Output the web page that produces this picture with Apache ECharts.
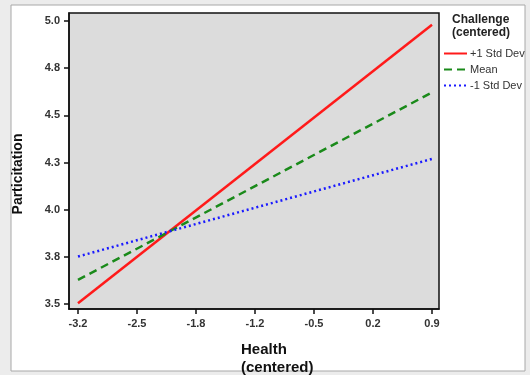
<!DOCTYPE html>
<html>
<head>
    <meta charset="UTF-8">
    <title>Participation by Health and Challenge</title>
    <script src="https://cdn.jsdelivr.net/npm/echarts/dist/echarts.min.js"></script>
    <style>
        html, body { margin: 0; padding: 0; background: #ececec; }
        #main { width: 530px; height: 375px; }
    </style>
</head>
<body>
    <div id="main"></div>
    <script type="text/javascript">
        // x endpoints of the simple slopes (Health, centered)
        var healthX = [-3.2, 0.9];
        var plusSD = [3.505, 4.98];
        var meanVals = [3.628, 4.621];
        var minusSD = [3.752, 4.269];

        var xTicks = [-3.2, -2.5167, -1.8333, -1.15, -0.4667, 0.2167, 0.9];
        var xTickLabels = ['-3.2', '-2.5', '-1.8', '-1.2', '-0.5', '0.2', '0.9'];
        var yTicks = [3.5, 3.75, 4.0, 4.25, 4.5, 4.75, 5.0];
        var yTickLabels = ['3.5', '3.8', '4.0', '4.3', '4.5', '4.8', '5.0'];

        function pairs(ys) {
            return healthX.map(function (x, i) { return [x, ys[i]]; });
        }
        function lookup(ticks, labels) {
            return function (v) {
                for (var i = 0; i < ticks.length; i++) {
                    if (Math.abs(ticks[i] - v) < 1e-3) return labels[i];
                }
                return '';
            };
        }

        var myChart = echarts.init(document.getElementById('main'));
        var font = 'Liberation Sans, Arial, sans-serif';

        var option = {
            animation: false,
            backgroundColor: 'transparent',
            textStyle: { fontFamily: font },
            graphic: [
                {
                    type: 'rect', z: -10, silent: true,
                    shape: { x: 11, y: 5, width: 514, height: 366 },
                    style: { fill: '#fff', stroke: '#a8a8a8', lineWidth: 1 }
                },
                {
                    type: 'text', x: 241, y: 341,
                    style: {
                        text: 'Health\n(centered)', font: 'bold 15px ' + font,
                        fill: '#111', lineHeight: 18, textAlign: 'left'
                    }
                },
                {
                    type: 'text', x: 18, y: 174, rotation: Math.PI / 2,
                    style: {
                        text: 'Particitation', font: 'bold 14px ' + font,
                        fill: '#111', textAlign: 'center', textVerticalAlign: 'middle'
                    }
                }
            ],
            title: {
                text: 'Challenge\n(centered)',
                left: 452, top: 13, padding: 0,
                textStyle: { fontSize: 12, fontWeight: 'bold', color: '#222', lineHeight: 13, fontFamily: font }
            },
            legend: {
                orient: 'vertical',
                left: 443, top: 48, padding: 0,
                itemWidth: 23, itemHeight: 10, itemGap: 5,
                itemStyle: { opacity: 0 },
                textStyle: { fontSize: 11, color: '#333', fontFamily: font, padding: [0, 0, 0, -2] },
                data: ['+1 Std Dev', 'Mean', '-1 Std Dev']
            },
            grid: {
                left: 69, top: 13, right: 91, bottom: 66,
                show: true, backgroundColor: '#dcdcdc',
                borderColor: '#111', borderWidth: 1.5
            },
            xAxis: {
                type: 'value', min: -3.304, max: 0.981,
                splitLine: { show: false },
                axisLine: { show: true, onZero: false, lineStyle: { color: '#111', width: 1.5 } },
                axisTick: { show: true, length: 5, customValues: xTicks, lineStyle: { color: '#111', width: 1.5 } },
                axisLabel: {
                    customValues: xTicks, formatter: lookup(xTicks, xTickLabels),
                    margin: 9, fontSize: 11, fontWeight: 'bold', color: '#333'
                }
            },
            yAxis: {
                type: 'value', min: 3.474, max: 5.042,
                splitLine: { show: false },
                axisLine: { show: true, onZero: false, lineStyle: { color: '#111', width: 1.5 } },
                axisTick: { show: true, length: 5, customValues: yTicks, lineStyle: { color: '#111', width: 1.5 } },
                axisLabel: {
                    customValues: yTicks, formatter: lookup(yTicks, yTickLabels),
                    margin: 9, fontSize: 11, fontWeight: 'bold', color: '#333'
                }
            },
            series: [
                {
                    name: '+1 Std Dev', type: 'line', symbol: 'none',
                    data: pairs(plusSD),
                    lineStyle: { color: '#ff1a1a', width: 2.5, type: 'solid' },
                    itemStyle: { color: '#ff1a1a' }
                },
                {
                    name: 'Mean', type: 'line', symbol: 'none',
                    data: pairs(meanVals),
                    lineStyle: { color: '#1a8a1a', width: 2.5, type: [8, 5] },
                    itemStyle: { color: '#1a8a1a' }
                },
                {
                    name: '-1 Std Dev', type: 'line', symbol: 'none',
                    data: pairs(minusSD),
                    lineStyle: { color: '#1a1aff', width: 2.5, type: [2, 3] },
                    itemStyle: { color: '#1a1aff' }
                }
            ]
        };
        myChart.setOption(option);
    </script>
</body>
</html>
